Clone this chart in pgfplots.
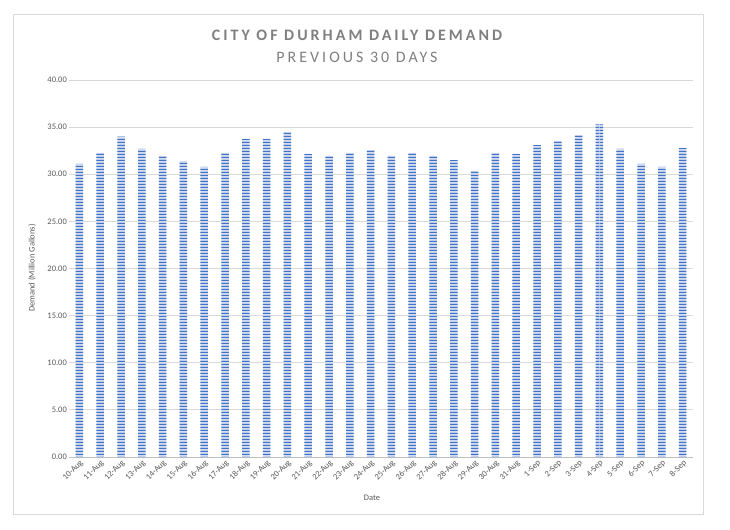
\documentclass[border=0pt]{standalone}
\usepackage{fontspec}
\setmainfont{Carlito}
\newfontfamily\titlefont[LetterSpace=19]{Carlito}
\usepackage{pgfplots}
\pgfplotsset{compat=1.18}
\usetikzlibrary{patterns}
\pgfdeclarepatternformonly{hstripes}{\pgfqpoint{0bp}{0bp}}{\pgfqpoint{200bp}{3bp}}{\pgfqpoint{200bp}{3bp}}{%
  \pgfpathrectangle{\pgfqpoint{0bp}{0bp}}{\pgfqpoint{200bp}{1.6bp}}\pgfusepath{fill}}
\definecolor{barblue}{HTML}{4472C4}
\definecolor{gridgray}{HTML}{D9D9D9}
\definecolor{axisgray}{HTML}{BFBFBF}
\definecolor{ticktext}{HTML}{595959}
\definecolor{titlegray}{HTML}{7F7F7F}
\begin{document}
\begin{tikzpicture}
\path[use as bounding box] (0bp,0bp) rectangle (730bp,530bp);
\fill[white] (0bp,0bp) rectangle (730bp,530bp);
\draw[gridgray, line width=1bp] (13bp,15bp) rectangle (703bp,515bp);
\node[titlegray] at (357bp,494.5bp) {\titlefont\bfseries\fontsize{16}{18}\selectfont CITY OF DURHAM DAILY DEMAND};
\node[titlegray] at (357bp,473bp) {\titlefont\fontsize{16}{18}\selectfont PREVIOUS 30 DAYS};
\node[ticktext] at (372bp,32bp) {\fontsize{8.5}{10}\selectfont Date};
\node[ticktext, rotate=90] at (32bp,262bp) {\fontsize{8.5}{10}\selectfont Demand (Million Gallons)};
\begin{axis}[
  at={(69bp,73bp)}, anchor=south west,
  scale only axis, width=624bp, height=377bp,
  xmin=-0.5, xmax=29.5, ymin=0, ymax=40,
  ytick={0,5,...,40},
  xtick={0,...,29},
  xticklabels={10-Aug,11-Aug,12-Aug,13-Aug,14-Aug,15-Aug,16-Aug,17-Aug,18-Aug,19-Aug,20-Aug,21-Aug,22-Aug,23-Aug,24-Aug,25-Aug,26-Aug,27-Aug,28-Aug,29-Aug,30-Aug,31-Aug,1-Sep,2-Sep,3-Sep,4-Sep,5-Sep,6-Sep,7-Sep,8-Sep},
  x tick label style={rotate=45, anchor=north east, font=\fontsize{8.5}{9}\selectfont, text=ticktext, inner sep=1.5bp},
  y tick label style={font=\fontsize{8.5}{9}\selectfont, text=ticktext, inner sep=2bp},
  yticklabel style={/pgf/number format/.cd, fixed, fixed zerofill, precision=2, assume math mode=true},
  ymajorgrids, grid style={gridgray, line width=0.8bp},
  axis x line*=bottom, axis y line*=left,
  x axis line style={axisgray, line width=1bp, -},
  y axis line style={draw=none},
  major tick length=0pt,
  xtick style={draw=none}, ytick style={draw=none},
  clip=false,
]
\addplot[ybar, bar width=7.5bp, draw=none, fill=barblue!25,
  postaction={pattern=hstripes, pattern color=barblue}]
  coordinates {
  (0,31.09) (1,32.26) (2,33.98) (3,32.68) (4,31.94) (5,31.40) (6,30.77) (7,32.26)
  (8,33.74) (9,33.74) (10,34.48) (11,32.15) (12,31.94) (13,32.26) (14,32.57)
  (15,31.94) (16,32.26) (17,31.94) (18,31.51) (19,30.35) (20,32.26) (21,32.15)
  (22,33.10) (23,33.53) (24,34.16) (25,35.30) (26,32.68) (27,31.09) (28,30.77) (29,32.79)
  };
\end{axis}
\end{tikzpicture}
\end{document}
